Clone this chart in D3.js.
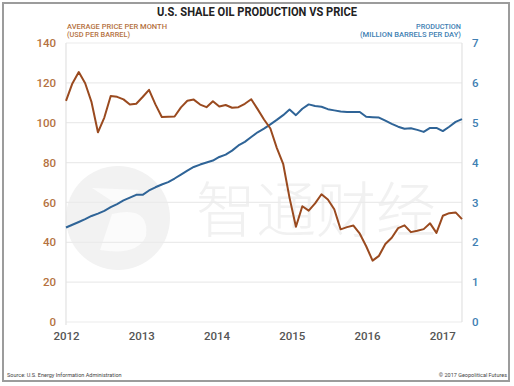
<!DOCTYPE html>
<html><head><meta charset="utf-8">
<script src="https://cdn.jsdelivr.net/npm/d3@7"></script>
<style>
html,body{margin:0;padding:0;background:#fff;}
svg{display:block;font-family:Roboto, "Liberation Sans", sans-serif;}
</style></head>
<body><svg id="c" width="514" height="386"></svg>
<script>
// ---- data ----
const priceUSD = [
 111.0,119.7,125.4,119.8,110.3,95.2,102.6,113.4,113.0,111.7,109.1,109.5,
 112.9,116.5,109.2,102.9,103.0,103.1,107.7,111.0,111.6,109.1,107.8,110.8,
 108.1,108.9,107.5,107.8,109.5,111.8,106.8,101.6,97.1,87.4,79.4,62.3,
 47.8,58.1,55.9,59.5,64.1,61.5,56.6,46.5,47.6,48.4,44.3,38.0,
 30.8,33.2,39.1,42.3,47.1,48.5,45.1,45.8,46.6,49.5,44.7,53.3,
 54.6,55.0,51.6];
const productionMbd = [
 2.37,2.44,2.51,2.58,2.66,2.72,2.79,2.88,2.96,3.05,3.12,3.19,
 3.19,3.30,3.38,3.45,3.51,3.60,3.70,3.80,3.89,3.95,4.00,4.05,
 4.14,4.20,4.30,4.43,4.52,4.64,4.76,4.85,4.96,5.07,5.19,5.33,
 5.19,5.35,5.46,5.42,5.40,5.34,5.31,5.28,5.27,5.27,5.27,5.15,
 5.14,5.13,5.05,4.97,4.90,4.85,4.86,4.82,4.77,4.87,4.87,4.79,
 4.90,5.02,5.09];
const yearTicks = [2012,2013,2014,2015,2016,2017];
const priceTicks = [0,20,40,60,80,100,120,140];
const prodTicks = [0,1,2,3,4,5,6,7];
const months = d3.timeMonth.range(new Date(2012,0,1), new Date(2017,3,1)).map(d3.timeFormat("%Y-%m"));

const svg = d3.select("#c");
const L = 66, R = 462, T = 43, B = 322;
const brownTxt = "#b5723f", blueTxt = "#3f7fb3";
const brownLine = "#9a4a1f", blueLine = "#2f6497";

// frame
svg.append("rect").attr("x",3).attr("y",3).attr("width",506).attr("height",378)
  .attr("fill","#fff").attr("stroke","#9c9c9c").attr("stroke-width",2);

const x = d3.scalePoint().domain(months).range([L, R]);
const xYear = d3.scaleLinear().domain([2012, 2017]).range([L, 442.3]);
const yP = d3.scaleLinear().domain([0,140]).range([B, T]);
const yQ = d3.scaleLinear().domain([0,7]).range([B, T]);

// watermark
const wm = svg.append("g");
wm.append("circle").attr("cx",118).attr("cy",218).attr("r",52).attr("fill","#f2f2f2");
wm.append("path").attr("d","M92,188 L140,190 L118,205 Z M100,250 L112,214 Q150,205 146,236 Q138,256 100,250 Z").attr("fill","#fbfbfb");
wm.append("text").attr("x",196).attr("y",232).attr("font-size",60)
  .attr("font-family","'Noto Sans CJK SC'").attr("font-weight",300)
  .attr("fill","#f1f1f1").text("智通财经");

// gridlines
svg.append("g").selectAll("line").data(priceTicks).join("line")
  .attr("x1",L).attr("x2",R).attr("y1",d=>yP(d)).attr("y2",d=>yP(d))
  .attr("stroke","#ebebeb").attr("stroke-width",1.2);
svg.append("line").attr("x1",L).attr("x2",L).attr("y1",T).attr("y2",B+3).attr("stroke","#e2e2e2").attr("stroke-width",1.2);
svg.append("line").attr("x1",R).attr("x2",R).attr("y1",T).attr("y2",B).attr("stroke","#e2e2e2").attr("stroke-width",1.2);

// axes
const axL = svg.append("g").attr("transform",`translate(${L-10},0)`)
  .call(d3.axisLeft(yP).tickValues(priceTicks).tickFormat(d3.format("d")).tickSize(0).tickPadding(0));
axL.select(".domain").remove();
axL.selectAll("text").attr("fill",brownTxt).attr("font-size",11.5).attr("font-weight",500)
  .attr("font-family","Roboto");
const axR = svg.append("g").attr("transform",`translate(${R+10},0)`)
  .call(d3.axisRight(yQ).tickValues(prodTicks).tickFormat(d3.format("d")).tickSize(0).tickPadding(0));
axR.select(".domain").remove();
axR.selectAll("text").attr("fill",blueTxt).attr("font-size",11.5).attr("font-weight",500)
  .attr("font-family","Roboto");
const axB = svg.append("g").attr("transform",`translate(0,${B+10})`)
  .call(d3.axisBottom(xYear).tickValues(yearTicks).tickFormat(d3.format("d")).tickSize(0).tickPadding(0));
axB.select(".domain").remove();
axB.selectAll("text").attr("fill","#555").attr("font-size",11.5).attr("font-weight",500)
  .attr("font-family","Roboto");

// lines
const lineP = d3.line().x((d,i)=>x(months[i])).y(d=>yP(d));
const lineQ = d3.line().x((d,i)=>x(months[i])).y(d=>yQ(d));
svg.append("path").attr("d",lineQ(productionMbd)).attr("fill","none")
  .attr("stroke",blueLine).attr("stroke-width",2).attr("stroke-linejoin","round");
svg.append("path").attr("d",lineP(priceUSD)).attr("fill","none")
  .attr("stroke",brownLine).attr("stroke-width",2).attr("stroke-linejoin","round");

// titles
svg.append("text").attr("x",257).attr("y",15.5).attr("text-anchor","middle")
  .attr("font-size",12.5).attr("font-weight",700).attr("fill","#222")
  .attr("textLength",200).attr("lengthAdjust","spacingAndGlyphs")
  .text("U.S. SHALE OIL PRODUCTION VS PRICE");
const sub = (t, xx, yy, anchor, col, w) => svg.append("text").attr("x",xx).attr("y",yy)
  .attr("text-anchor",anchor).attr("font-size",8).attr("font-weight",500).attr("fill",col)
  .attr("textLength",w).attr("lengthAdjust","spacingAndGlyphs").text(t);
sub("AVERAGE PRICE PER MONTH", 67, 29, "start", brownTxt, 100);
sub("(USD PER BARREL)", 67, 36.5, "start", brownTxt, 63);
sub("PRODUCTION", 461, 29, "end", blueTxt, 45);
sub("(MILLION BARRELS PER DAY)", 461, 36.5, "end", blueTxt, 101);

// footer
svg.append("text").attr("x",7).attr("y",377).attr("font-size",5.5).attr("fill","#444")
  .text("Source: U.S. Energy Information Administration");
svg.append("text").attr("x",507).attr("y",377).attr("text-anchor","end").attr("font-size",5.5).attr("fill","#444")
  .text("© 2017 Geopolitical Futures");
</script></body></html>
